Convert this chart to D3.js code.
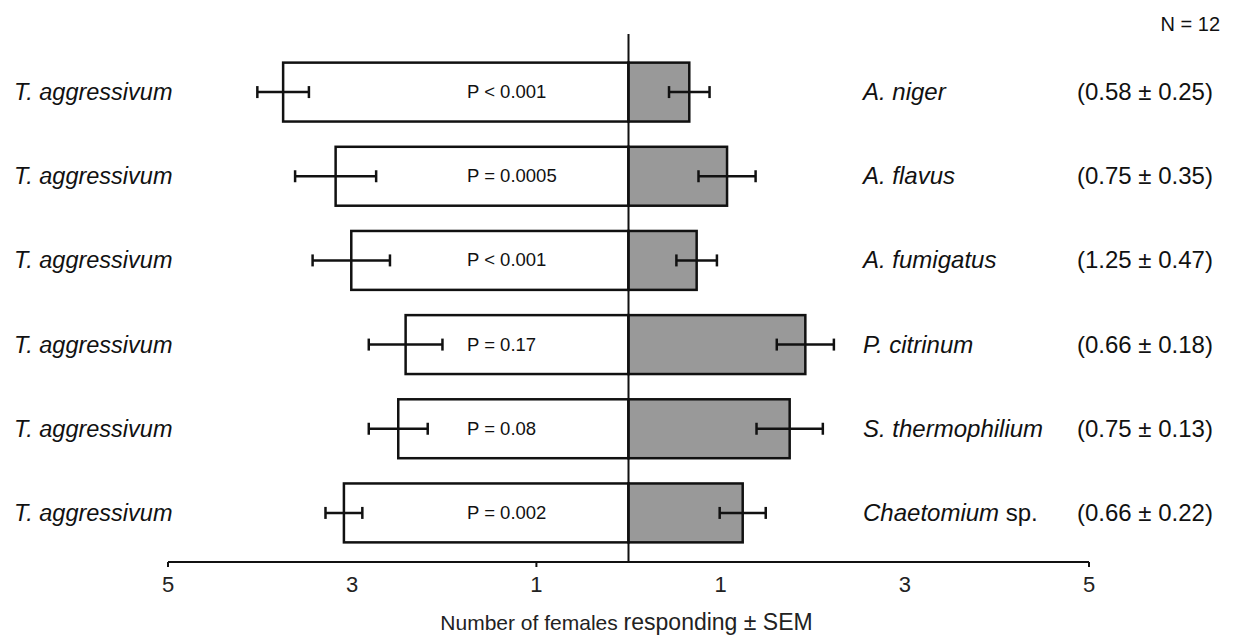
<!DOCTYPE html>
<html>
<head>
<meta charset="utf-8">
<script src="https://cdn.jsdelivr.net/npm/d3@7"></script>
<style>
  html, body { margin: 0; padding: 0; background: #fff; }
  svg { display: block; font-family: "Liberation Sans", Arial, sans-serif; }
</style>
</head>
<body>
<svg id="chart" width="1238" height="638"></svg>
<script>
// datos (número de hembras que responden ± SEM)
const leftLabel = 'T. aggressivum';
const fungi = ['A. niger', 'A. flavus', 'A. fumigatus', 'P. citrinum', 'S. thermophilium', 'Chaetomium'];
const fungiSuffix = ['', '', '', '', '', ' sp.'];
const leftMeans = [3.75, 3.18, 3.01, 2.42, 2.50, 3.09];
const leftSem = [0.28, 0.44, 0.42, 0.40, 0.32, 0.20];
const rightMeans = [0.66, 1.07, 0.74, 1.92, 1.75, 1.24];
const rightSem = [0.22, 0.31, 0.22, 0.31, 0.36, 0.25];
const pValues = ['P < 0.001', 'P = 0.0005', 'P < 0.001', 'P = 0.17', 'P = 0.08', 'P = 0.002'];
const extraValues = ['(0.58 ± 0.25)', '(0.75 ± 0.35)', '(1.25 ± 0.47)', '(0.66 ± 0.18)', '(0.75 ± 0.13)', '(0.66 ± 0.22)'];
const tickLabels = [-5, -3, -1, 1, 3, 5];
const tickMarks = [-5, -1, 5];

const svg = d3.select('#chart');

const x = d3.scaleLinear().domain([-5, 5]).range([168, 1089]);
const y = d3.scaleBand().domain(d3.range(fungi.length))
  .range([50, 555]).paddingInner(0.3).paddingOuter(0.15);
const bw = y.bandwidth();
const cy = i => y(i) + bw / 2;

const rows = fungi.map((f, i) => ({
  i, fungus: f, suffix: fungiSuffix[i],
  l: leftMeans[i], ls: leftSem[i],
  r: rightMeans[i], rs: rightSem[i],
  p: pValues[i], extra: extraValues[i]
}));

// barras izquierdas (blancas)
svg.append('g').selectAll('rect').data(rows).join('rect')
  .attr('x', d => x(-d.l)).attr('y', d => y(d.i))
  .attr('width', d => x(0) - x(-d.l)).attr('height', bw)
  .attr('fill', '#fff').attr('stroke', '#111').attr('stroke-width', 2.5);

// barras derechas (grises)
svg.append('g').selectAll('rect').data(rows).join('rect')
  .attr('x', x(0)).attr('y', d => y(d.i))
  .attr('width', d => x(d.r) - x(0)).attr('height', bw)
  .attr('fill', '#999').attr('stroke', '#111').attr('stroke-width', 2.5);

// barras de error
function errBars(cls, center, sem) {
  const g = svg.append('g').attr('class', cls)
    .attr('stroke', '#111').attr('stroke-width', 2.5);
  rows.forEach(d => {
    const x1 = x(center(d) - sem(d)), x2 = x(center(d) + sem(d)), yy = cy(d.i);
    g.append('line').attr('x1', x1).attr('x2', x2).attr('y1', yy).attr('y2', yy);
    g.append('line').attr('x1', x1).attr('x2', x1).attr('y1', yy - 6).attr('y2', yy + 6);
    g.append('line').attr('x1', x2).attr('x2', x2).attr('y1', yy - 6).attr('y2', yy + 6);
  });
}
errBars('err-left', d => -d.l, d => d.ls);
errBars('err-right', d => d.r, d => d.rs);

// línea central
svg.append('line')
  .attr('x1', x(0)).attr('x2', x(0)).attr('y1', 34).attr('y2', 562)
  .attr('stroke', '#111').attr('stroke-width', 2);

// eje inferior
const axisY = 562;
svg.append('line')
  .attr('x1', x(-5)).attr('x2', x(5)).attr('y1', axisY).attr('y2', axisY)
  .attr('stroke', '#111').attr('stroke-width', 2);
svg.append('g').selectAll('line').data(tickMarks).join('line')
  .attr('x1', d => x(d)).attr('x2', d => x(d))
  .attr('y1', axisY).attr('y2', axisY + 5)
  .attr('stroke', '#111').attr('stroke-width', 2);
svg.append('g').selectAll('text').data(tickLabels).join('text')
  .attr('x', d => x(d)).attr('y', 592)
  .attr('text-anchor', 'middle').attr('font-size', 22).attr('fill', '#222')
  .text(d => Math.abs(d));

const title = svg.append('text')
  .attr('x', (x(-5) + x(5)) / 2 - 2).attr('y', 630)
  .attr('text-anchor', 'middle').attr('fill', '#222');
title.append('tspan').attr('font-size', 21).text('Number of females ');
title.append('tspan').attr('font-size', 23).text('responding ± SEM');

// etiquetas
svg.append('g').selectAll('text').data(rows).join('text')
  .attr('x', 14).attr('y', d => cy(d.i) + 8)
  .attr('font-size', 23.5).attr('font-style', 'italic').attr('fill', '#111')
  .text(leftLabel);

svg.append('g').selectAll('text').data(rows).join('text')
  .attr('x', 467).attr('y', d => cy(d.i) + 6)
  .attr('font-size', 18.5).attr('fill', '#111')
  .text(d => d.p);

const sp = svg.append('g').selectAll('text').data(rows).join('text')
  .attr('x', 863).attr('y', d => cy(d.i) + 8)
  .attr('font-size', 24).attr('fill', '#111');
sp.append('tspan').attr('font-style', 'italic').text(d => d.fungus);
sp.append('tspan').text(d => d.suffix);

svg.append('g').selectAll('text').data(rows).join('text')
  .attr('x', 1077).attr('y', d => cy(d.i) + 8)
  .attr('font-size', 24).attr('fill', '#111')
  .text(d => d.extra);

svg.append('text')
  .attr('x', 1220).attr('y', 31)
  .attr('text-anchor', 'end').attr('font-size', 20).attr('fill', '#111')
  .text('N = 12');
</script>
</body>
</html>
